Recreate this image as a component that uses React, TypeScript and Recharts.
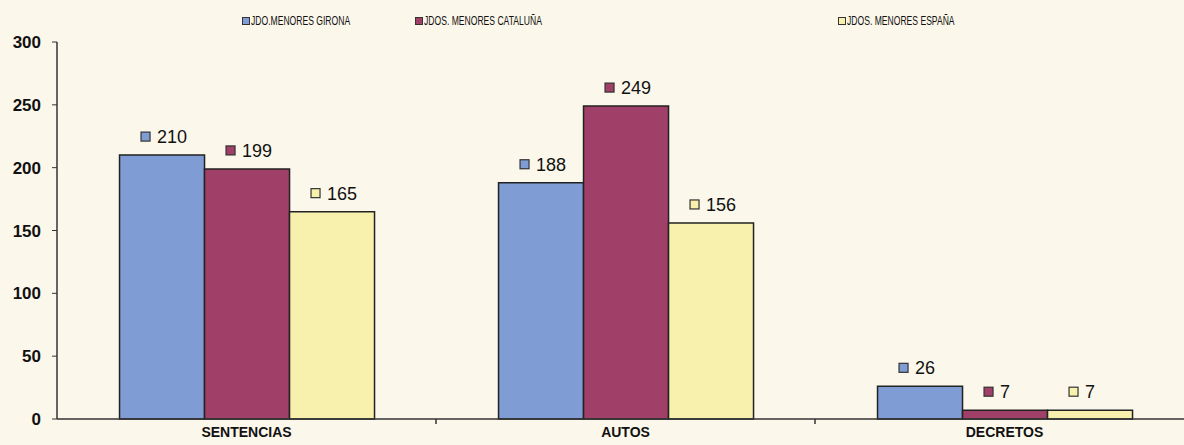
import React from 'react';
import { BarChart, Bar, XAxis, YAxis, LabelList } from 'recharts';

const categories = ['SENTENCIAS', 'AUTOS', 'DECRETOS'];
const girona = [210, 188, 26];
const cataluna = [199, 249, 7];
const espana = [165, 156, 7];
const yTicks = [0, 50, 100, 150, 200, 250, 300];
const seriesNames = ['JDO.MENORES GIRONA', 'JDOS. MENORES CATALUÑA', 'JDOS. MENORES ESPAÑA'];

const colors = ['#7f9dd4', '#a03f68', '#f8f1ad'];
const BG = '#fbf7ea';

const data = categories.map((c) => ({ name: c }));
categories.forEach((_, i) => {
  Object.assign(data[i], { girona: girona[i], cataluna: cataluna[i], espana: espana[i] });
});

const makeLabel = (color: string) => (props: any) => {
  const { x, y, width, value } = props;
  const cx = x + width / 2;
  const cy = y - 18;
  return (
    <g>
      <rect x={cx - 21} y={cy - 5} width={9} height={9} fill={color} stroke="#333" strokeWidth={1.2} />
      <text x={cx - 5} y={cy} dominantBaseline="central" fontSize={18} fontFamily="Liberation Sans, Arial, sans-serif" fill="#111">
        {value}
      </text>
    </g>
  );
};

const CatTick = (props: any) => {
  const { x, y, payload, width, visibleTicksCount, index } = props;
  const band = width / (visibleTicksCount || categories.length);
  return (
    <g>
      {index < categories.length - 1 && (
        <line x1={x + band / 2} x2={x + band / 2} y1={y - 5} y2={y} stroke="#333" strokeWidth={1.5} />
      )}
      <text x={x} y={y + 13} textAnchor="middle" fontSize={14} fontWeight="bold" fill="#111" fontFamily="Liberation Sans, Arial, sans-serif">
        {payload.value}
      </text>
    </g>
  );
};

const legendLefts = [242, 415, 838];

export default function App() {
  return (
    <div style={{ position: 'absolute', left: 0, top: 0, width: 1184, height: 445, overflow: 'hidden', background: BG }}>
      {seriesNames.map((n, i) => (
        <div key={n} style={{ position: 'absolute', left: legendLefts[i], top: 13, display: 'flex', alignItems: 'center', fontFamily: '"Liberation Sans", Arial, sans-serif', fontSize: 13, color: '#111', whiteSpace: 'nowrap' }}>
          <span style={{ display: 'inline-block', width: 6, height: 6, background: colors[i], border: '1px solid #333', marginRight: 1 }} />
          <span style={{ display: 'inline-block', transform: 'scaleX(0.66)', transformOrigin: 'left center' }}>{n}</span>
        </div>
      ))}
      <BarChart width={1194} height={445} data={data} margin={{ top: 42, right: 0, bottom: 0, left: 0 }} barCategoryGap="16.5%" barGap={0}>
        <XAxis dataKey="name" height={26} axisLine={{ stroke: '#333', strokeWidth: 1.5 }} tickLine={false}
          tickSize={0} tickMargin={5} tick={<CatTick />} interval={0} />
        <YAxis width={57} domain={[0, 300]} ticks={yTicks} axisLine={{ stroke: '#333', strokeWidth: 1.5 }}
          tickLine={{ stroke: '#333' }} tickSize={5} tickMargin={11}
          tick={{ fontSize: 17, fontWeight: 'bold', fill: '#111', fontFamily: 'Liberation Sans, Arial, sans-serif' }} />
        <Bar dataKey="girona" fill={colors[0]} stroke="#222" strokeWidth={1.5} isAnimationActive={false}>
          <LabelList dataKey="girona" content={makeLabel(colors[0])} />
        </Bar>
        <Bar dataKey="cataluna" fill={colors[1]} stroke="#222" strokeWidth={1.5} isAnimationActive={false}>
          <LabelList dataKey="cataluna" content={makeLabel(colors[1])} />
        </Bar>
        <Bar dataKey="espana" fill={colors[2]} stroke="#222" strokeWidth={1.5} isAnimationActive={false}>
          <LabelList dataKey="espana" content={makeLabel(colors[2])} />
        </Bar>
      </BarChart>
    </div>
  );
}
